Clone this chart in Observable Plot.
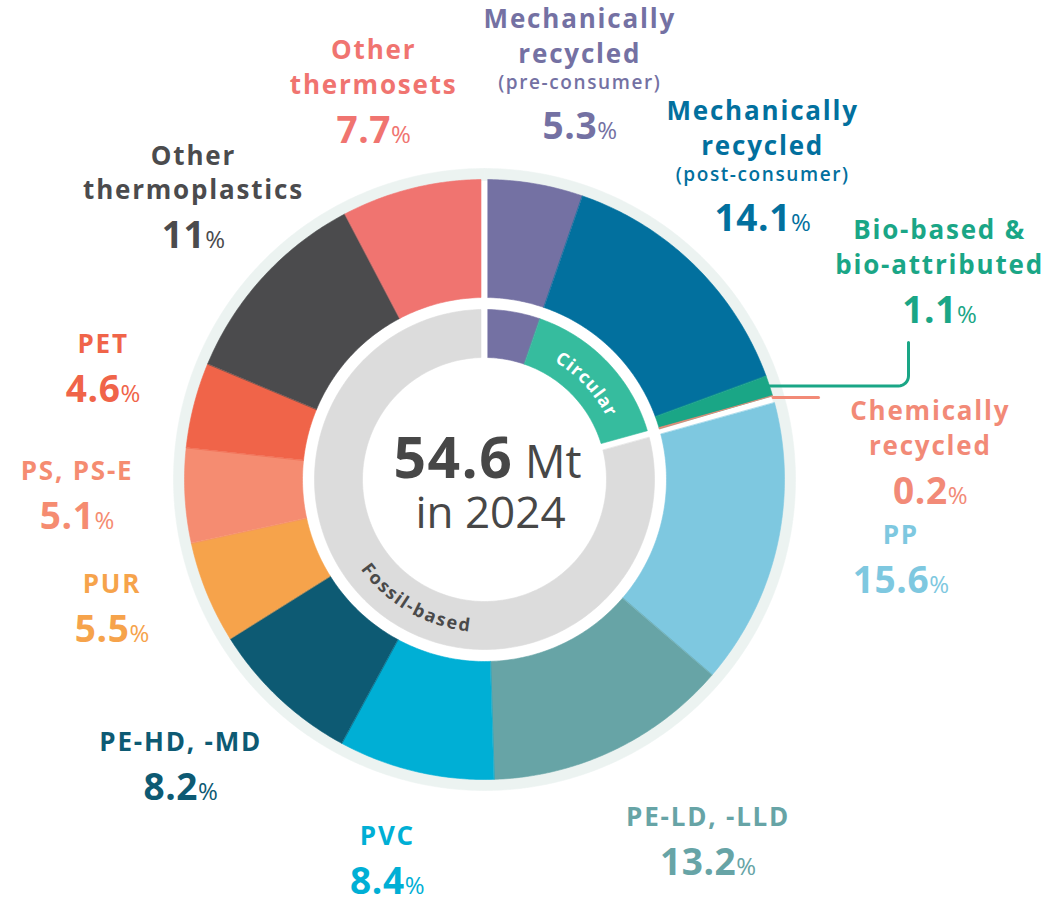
<!DOCTYPE html>
<html><head><meta charset="utf-8">
<script src="https://cdn.jsdelivr.net/npm/d3@7"></script>
<script src="https://cdn.jsdelivr.net/npm/@observablehq/plot@0.6"></script>
<style>
html,body{margin:0;padding:0;background:#fff;}
#chart{width:1048px;height:904px;}
</style></head><body><div id="chart"></div>
<script>
// ---------------- data ----------------
const categories = [
  "Mechanically recycled (pre-consumer)", "Mechanically recycled (post-consumer)",
  "Bio-based & bio-attributed", "Chemically recycled",
  "PP", "PE-LD, -LLD", "PVC", "PE-HD, -MD", "PUR", "PS, PS-E", "PET",
  "Other thermoplastics", "Other thermosets"
];
const shares = [5.3, 14.1, 1.1, 0.2, 15.6, 13.2, 8.4, 8.2, 5.5, 5.1, 4.6, 11, 7.7];
const groups = ["Circular", "Circular", "Circular", "Circular",
  "Fossil-based", "Fossil-based", "Fossil-based", "Fossil-based", "Fossil-based",
  "Fossil-based", "Fossil-based", "Fossil-based", "Fossil-based"];
const labelTitles = [
  "Mechanically\nrecycled", "Mechanically\nrecycled", "Bio-based &\nbio-attributed",
  "Chemically\nrecycled", "PP", "PE-LD, -LLD", "PVC", "PE-HD, -MD", "PUR",
  "PS, PS-E", "PET", "Other\nthermoplastics", "Other\nthermosets"
];
const labelNotes = ["(pre-consumer)", "(post-consumer)", "", "", "", "", "", "", "", "", "", "", ""];
const ringNames = ["Circular", "Fossil-based"];
const totalMt = "54.6";
const unit = "Mt";
const yearText = "in 2024";

// ---------------- styles / layout ----------------
const palette = [
  "#7471a3", "#02709e", "#1aa686", "#f28a77", "#7ec8e0", "#67a4a6", "#00afd5",
  "#0d5a73", "#f6a34b", "#f58c71", "#f06449", "#4b4b4d", "#f07470",
  "#36bc9e", "#dcdcdc", "#ecf3f1"
];
const W = 1048, H = 904, CX = 484, CY = 479;
const R_HALO = 311, R_OUT = 300, R_OUT_IN = 182, R_IN_OUT = 170, R_IN_IN = 122;
const GAP = 7;
const LABEL_R = 400;
// label nudges (px) from the mid-angle anchor to the value-line baseline centre
const nudges = [[29, 54], [-2, 37], [75, -32], [61, 134], [26, 26], [51, 35], [-5, 25],
  [-30, 29], [-2, 12], [-8, 28], [6, 22], [4, 39], [-15, 52]];

// ---------------- geometry ----------------
const TAU = Math.PI * 2;
const cum = d3.cumsum(shares);
const total = d3.sum(shares);
const ang = v => v / total * TAU;
const a0s = shares.map((s, i) => ang(cum[i] - s));
const a1s = shares.map((s, i) => ang(cum[i]));
const circEnd = ang(d3.sum(shares.filter((s, i) => groups[i] === "Circular")));

function arcPoly(id, key, a0, a1, r0, r1, gs, ge) {
  const pts = [];
  const lim = r => [a0 + (gs ? Math.asin(GAP / 2 / r) : 0), a1 - (ge ? Math.asin(GAP / 2 / r) : 0)];
  const [s1, e1] = lim(r1);
  const n1 = Math.max(2, Math.ceil((e1 - s1) * r1 / 3));
  for (let k = 0; k <= n1; k++) {
    const a = s1 + (e1 - s1) * k / n1;
    pts.push({id, key, x: r1 * Math.sin(a), y: r1 * Math.cos(a)});
  }
  const [s0, e0] = lim(r0);
  const n0 = Math.max(2, Math.ceil((e0 - s0) * r0 / 3));
  for (let k = n0; k >= 0; k--) {
    const a = s0 + (e0 - s0) * k / n0;
    pts.push({id, key, x: r0 * Math.sin(a), y: r0 * Math.cos(a)});
  }
  return pts;
}

let polys = [];
polys = polys.concat(arcPoly("halo", "halo", 0, TAU, R_OUT - 1, R_HALO, false, false));
categories.forEach((c, i) => {
  const gs = i === 0 || (groups[i] !== groups[i - 1]);
  const ge = i === categories.length - 1 || (groups[i] !== groups[i + 1]);
  polys = polys.concat(arcPoly("o" + i, c, a0s[i], a1s[i], R_OUT_IN, R_OUT, gs, ge));
});
// inner ring: first circular stream continues inward, then the Circular and Fossil-based bands
polys = polys.concat(arcPoly("i0", categories[0], a0s[0], a1s[0], R_IN_IN, R_IN_OUT, true, false));
polys = polys.concat(arcPoly("i1", ringNames[0], a1s[0], circEnd, R_IN_IN, R_IN_OUT, false, true));
polys = polys.concat(arcPoly("i2", ringNames[1], circEnd, TAU, R_IN_IN, R_IN_OUT, true, true));

// labels
const labels = categories.map((c, i) => {
  const m = (a0s[i] + a1s[i]) / 2;
  const vx = LABEL_R * Math.sin(m) + nudges[i][0];
  const vy = LABEL_R * Math.cos(m) - nudges[i][1];
  return {key: c, title: labelTitles[i], note: labelNotes[i], value: String(shares[i]) + "%", vx, vy, mid: m};
});

// leader lines for the two thin circular slices
function leader(i, xEndPx, yEndPx) {
  const m = (a0s[i] + a1s[i]) / 2;
  const sx = R_OUT * Math.sin(m), sy = R_OUT * Math.cos(m);
  const xe = xEndPx - CX;
  const pts = [{id: "l" + i, key: categories[i], x: sx, y: sy}];
  if (yEndPx == null) {
    pts.push({id: "l" + i, key: categories[i], x: xe, y: sy});
  } else {
    const rc = 10;
    pts.push({id: "l" + i, key: categories[i], x: xe - rc, y: sy});
    for (let k = 1; k <= 8; k++) {
      const t = -Math.PI / 2 + (Math.PI / 2) * k / 8;
      pts.push({id: "l" + i, key: categories[i], x: xe - rc + rc * Math.cos(t), y: sy + rc + rc * Math.sin(t)});
    }
    pts.push({id: "l" + i, key: categories[i], x: xe, y: CY - yEndPx});
  }
  return pts;
}
const leaders = leader(2, 908, 342).concat(leader(3, 818, null));

// curved ring labels, one character at a time
const ctx = document.createElement("canvas").getContext("2d");
function curved(str, px, r, thetaC, outward, track) {
  ctx.font = `700 ${px}px 'Open Sans'`;
  const ws = [...str].map(ch => ctx.measureText(ch).width + track);
  const Wt = d3.sum(ws);
  let acc = 0;
  return [...str].map((ch, k) => {
    const s = acc + ws[k] / 2 - Wt / 2;
    acc += ws[k];
    const th = outward ? thetaC + s / r : thetaC - s / r;
    const deg = th * 180 / Math.PI;
    return {ch, x: r * Math.sin(th), y: r * Math.cos(th), rot: outward ? deg : deg - 180};
  });
}
const RING_R = (R_IN_IN + R_IN_OUT) / 2;
const circChars = curved(ringNames[0], 18, RING_R - 3, (a1s[0] + circEnd) / 2, true, 1.4);
const fossChars = curved(ringNames[1], 18, RING_R + 1, 210 * Math.PI / 180, false, 1.4);

const colorDomain = [...categories, ...ringNames, "halo"];

const svg = Plot.plot({
  width: W, height: H, margin: 0,
  x: {domain: [-CX, W - CX], axis: null},
  y: {domain: [CY - H, CY], axis: null},
  color: {domain: colorDomain, range: palette},
  style: {fontFamily: "'Open Sans', sans-serif", background: "#ffffff"},
  marks: [
    Plot.line(polys, {x: "x", y: "y", z: "id", fill: "key", stroke: "key", strokeWidth: 0.6, curve: "linear-closed"}),
    Plot.line(leaders, {x: "x", y: "y", z: "id", stroke: "key", strokeWidth: 3, curve: "linear"}),
    Plot.text(circChars, {x: "x", y: "y", text: "ch", rotate: "rot", fill: "white", fontSize: 18, fontWeight: 700, lineAnchor: "middle"}),
    Plot.text(fossChars, {x: "x", y: "y", text: "ch", rotate: "rot", fill: "#4a4a4a", fontSize: 18, fontWeight: 700, lineAnchor: "middle"}),
    Plot.text(labels, {x: "vx", y: d => d.vy + (d.note ? 76 : 49), text: "title", fill: "key", fontSize: 26, fontWeight: 700, lineHeight: 1.34, lineAnchor: "bottom"}),
    Plot.text(labels.filter(d => d.note), {x: "vx", y: d => d.vy + 50, text: "note", fill: "key", fontSize: 19, fontWeight: 600, lineAnchor: "bottom"}),
    Plot.text(labels, {x: "vx", y: "vy", text: "value", fill: "key", fontSize: 37, fontWeight: 700, lineAnchor: "bottom"}),
    Plot.text([totalMt + " " + unit], {x: () => 0, y: () => 0, dx: 3, dy: -2, text: d => d, fill: "#474747", fontSize: 57, fontWeight: 700, lineAnchor: "bottom"}),
    Plot.text([yearText], {x: () => 0, y: () => 0, dx: 6, dy: 48, text: d => d, fill: "#474747", fontSize: 44, fontWeight: 400, lineAnchor: "bottom"})
  ]
});

// letter spacing to approximate the wide geometric face of the original
d3.select(svg).selectAll('g[font-size="26"]').attr("letter-spacing", "1.8px");
d3.select(svg).selectAll('g[font-size="19"]').attr("letter-spacing", "1.6px");
d3.select(svg).selectAll('g[font-size="37"]').attr("letter-spacing", "0.6px");

// mixed-size runs inside the value labels and the centre total
d3.select(svg).selectAll("text").each(function () {
  if (this.children.length) return;
  const t = this.textContent;
  let m;
  if ((m = t.match(/^([\d.]+)%$/))) {
    this.textContent = "";
    d3.select(this).append("tspan").text(m[1]);
    d3.select(this).append("tspan").attr("font-size", 24).attr("font-weight", 400).attr("letter-spacing", "0px").text("%");
  } else if (t === totalMt + " " + unit) {
    this.textContent = "";
    d3.select(this).append("tspan").attr("letter-spacing", "1.5px").text(totalMt);
    d3.select(this).append("tspan").attr("font-size", 45).attr("font-weight", 400).text(" " + unit);
  }
});

document.getElementById("chart").appendChild(svg);
</script>
</body></html>
